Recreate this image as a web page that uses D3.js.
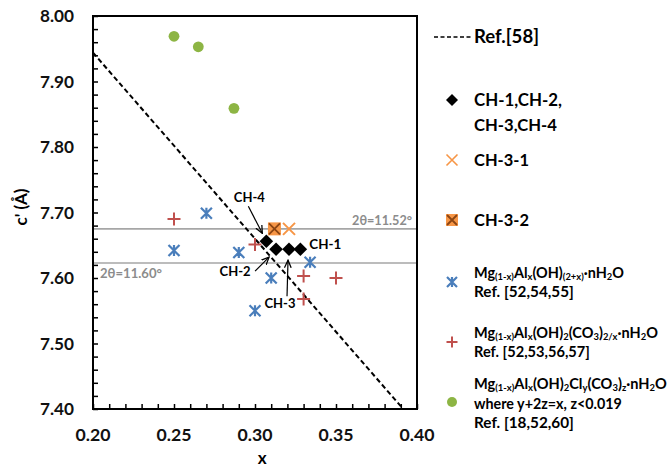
<!DOCTYPE html>
<html><head><meta charset="utf-8">
<script src="https://cdn.jsdelivr.net/npm/d3@7"></script>
<style>
html,body{margin:0;padding:0;background:#fff;}
text{font-family:Lato,"Open Sans",sans-serif;font-weight:bold;}
</style></head>
<body><svg id="chart" width="671" height="468"></svg>
<script>
// ---- data ----
const xTicks = [0.20, 0.25, 0.30, 0.35, 0.40];
const yTicks = [7.40, 7.50, 7.60, 7.70, 7.80, 7.90, 8.00];
const refLineX = [0.20, 0.3915];
const refLineY = [7.944, 7.40];
const chX = [0.307, 0.313, 0.321, 0.328];
const chY = [7.656, 7.644, 7.644, 7.644];
const chLabels = ["CH-4", "CH-2", "CH-3", "CH-1"];
const ch31X = [0.321], ch31Y = [7.675];
const ch32X = [0.312], ch32Y = [7.675];
const ohX = [0.270, 0.250, 0.290, 0.334, 0.310, 0.300];
const ohY = [7.699, 7.642, 7.639, 7.624, 7.600, 7.550];
const co3X = [0.250, 0.300, 0.330, 0.350, 0.330];
const co3Y = [7.690, 7.651, 7.603, 7.600, 7.568];
const clX = [0.250, 0.265, 0.287];
const clY = [7.969, 7.953, 7.859];
const thetaLines = [7.675, 7.623];
const thetaLabels = ["2θ=11.52°", "2θ=11.60°"];

const svg = d3.select("#chart");
const L = 93, R = 417, T = 16, B = 409;
const x = d3.scaleLinear().domain([0.20, 0.40]).range([L, R]);
const y = d3.scaleLinear().domain([7.40, 8.00]).range([B, T]);

const colBlue = "#4A7EBB", colRed = "#C0504D", colGreen = "#8DB544", colOrange = "#F79646", colGrey = "#A6A6A6";

// fit a plain text element to a target width by scaling its font-size
function fit(t, w) {
  const n = t.node(); const fs = +t.attr("font-size");
  const cw = n.getComputedTextLength();
  if (cw > 0) t.attr("font-size", (fs * w / cw).toFixed(2));
  return t;
}

// theta lines
const gL = svg.append("g");
thetaLines.forEach(v => {
  gL.append("line").attr("x1", L).attr("x2", R).attr("y1", y(v)).attr("y2", y(v))
    .attr("stroke", colGrey).attr("stroke-width", 1.6);
});
fit(svg.append("text").attr("x", R - 5).attr("y", y(thetaLines[0]) - 4).attr("text-anchor", "end")
  .attr("font-size", 12).attr("fill", "#8c8c8c").text(thetaLabels[0]), 60);
fit(svg.append("text").attr("x", L + 7).attr("y", y(thetaLines[1]) + 15).attr("text-anchor", "start")
  .attr("font-size", 12).attr("fill", "#8c8c8c").text(thetaLabels[1]), 62);

// ref dashed line
svg.append("line").attr("x1", x(refLineX[0])).attr("y1", y(refLineY[0]))
  .attr("x2", x(refLineX[1])).attr("y2", y(refLineY[1]))
  .attr("stroke", "#000").attr("stroke-width", 2).attr("stroke-dasharray", "5,3");

// axes
const yAxis = d3.axisLeft(y).tickValues(d3.range(7.40, 8.001, 0.02)).tickSize(-5).tickFormat("");
const xAxis = d3.axisBottom(x).tickValues(d3.range(0.20, 0.4001, 0.01)).tickSize(-5).tickFormat("");
const gy = svg.append("g").attr("transform", `translate(${L},0)`).call(yAxis);
const gx = svg.append("g").attr("transform", `translate(0,${B})`).call(xAxis);
[gy, gx].forEach(g => { g.select(".domain").remove(); g.selectAll("line").attr("stroke", "#000").attr("stroke-width", 1.5); });
svg.append("rect").attr("x", L).attr("y", T).attr("width", R - L).attr("height", B - T)
  .attr("fill", "none").attr("stroke", "#000").attr("stroke-width", 2);

yTicks.forEach(v => fit(svg.append("text").attr("x", 74).attr("y", y(v) + 6).attr("text-anchor", "end")
  .attr("font-size", 16).attr("fill", "#111").text(v.toFixed(2)), 34));
xTicks.forEach(v => fit(svg.append("text").attr("x", x(v)).attr("y", 441).attr("text-anchor", "middle")
  .attr("font-size", 16).attr("fill", "#111").text(v.toFixed(2)), 35));
svg.append("text").attr("x", x(0.3045)).attr("y", 464).attr("text-anchor", "middle").attr("font-size", 17).text("x");
svg.append("text").attr("transform", "translate(27,207) rotate(-90)").attr("text-anchor", "middle")
  .attr("font-size", 17).text("c' (Å)");

// marker drawers
function diamond(g, cx, cy, s) {
  g.append("path").attr("d", `M${cx},${cy - s}L${cx + s},${cy}L${cx},${cy + s}L${cx - s},${cy}Z`).attr("fill", "#000");
}
function xmark(g, cx, cy, s, col, w) {
  g.append("path").attr("d", `M${cx - s},${cy - s}L${cx + s},${cy + s}M${cx - s},${cy + s}L${cx + s},${cy - s}`)
    .attr("stroke", col).attr("stroke-width", w).attr("fill", "none");
}
function sqx(g, cx, cy, s) {
  g.append("rect").attr("x", cx - s).attr("y", cy - s).attr("width", 2 * s).attr("height", 2 * s).attr("fill", colOrange);
  xmark(g, cx, cy, s - 1, "#8B4513", 1.8);
}
function star(g, cx, cy, s, col) {
  g.append("path").attr("d", `M${cx - s},${cy - s}L${cx + s},${cy + s}M${cx - s},${cy + s}L${cx + s},${cy - s}M${cx},${cy - s}L${cx},${cy + s}`)
    .attr("stroke", col).attr("stroke-width", 2.2).attr("fill", "none");
}
function plus(g, cx, cy, s, col) {
  g.append("path").attr("d", `M${cx - s},${cy}L${cx + s},${cy}M${cx},${cy - s}L${cx},${cy + s}`)
    .attr("stroke", col).attr("stroke-width", 2).attr("fill", "none");
}
function circ(g, cx, cy, r, col) {
  g.append("circle").attr("cx", cx).attr("cy", cy).attr("r", r).attr("fill", col);
}

const gm = svg.append("g");
clX.forEach((v, i) => circ(gm, x(v), y(clY[i]), 5.4, colGreen));
ohX.forEach((v, i) => star(gm, x(v), y(ohY[i]), 5.5, colBlue));
co3X.forEach((v, i) => plus(gm, x(v), y(co3Y[i]), 6.5, colRed));
ch32X.forEach((v, i) => sqx(gm, x(v), y(ch32Y[i]), 6.5));
ch31X.forEach((v, i) => xmark(gm, x(v), y(ch31Y[i]), 6, colOrange, 2));
chX.forEach((v, i) => diamond(gm, x(v), y(chY[i]), 6.8));

// annotations
svg.append("defs").append("marker").attr("id", "arr").attr("viewBox", "0 0 10 10").attr("refX", 9).attr("refY", 5)
  .attr("markerWidth", 7).attr("markerHeight", 7).attr("orient", "auto")
  .append("path").attr("d", "M0,1L9,5L0,9").attr("fill", "none").attr("stroke", "#000").attr("stroke-width", 1.5);
function arrow(x1, y1, x2, y2) {
  svg.append("line").attr("x1", x1).attr("y1", y1).attr("x2", x2).attr("y2", y2)
    .attr("stroke", "#000").attr("stroke-width", 1.2).attr("marker-end", "url(#arr)");
}
// CH-4
fit(svg.append("text").attr("x", x(chX[0]) - 17).attr("y", y(chY[0]) - 39).attr("text-anchor", "middle").attr("font-size", 14).text(chLabels[0]), 31);
arrow(x(chX[0]) - 18, y(chY[0]) - 35, x(chX[0]) - 4, y(chY[0]) - 8);
// CH-2
fit(svg.append("text").attr("x", x(chX[1]) - 41).attr("y", y(chY[1]) + 27).attr("text-anchor", "middle").attr("font-size", 14).text(chLabels[1]), 31);
arrow(x(chX[1]) - 21, y(chY[1]) + 22, x(chX[1]) - 7, y(chY[1]) + 8);
// CH-3
fit(svg.append("text").attr("x", x(chX[2]) - 9).attr("y", y(chY[2]) + 59).attr("text-anchor", "middle").attr("font-size", 14).text(chLabels[2]), 31);
arrow(x(chX[2]) - 2, y(chY[2]) + 47, x(chX[2]) - 1, y(chY[2]) + 11);
// CH-1
fit(svg.append("text").attr("x", x(chX[3]) + 9).attr("y", y(chY[3]) + 0).attr("text-anchor", "start").attr("font-size", 14).text(chLabels[3]), 32);

// legend
const lg = svg.append("g");
const LX = 452, TX = 474;
lg.append("line").attr("x1", 434).attr("x2", 471).attr("y1", 37).attr("y2", 37)
  .attr("stroke", "#000").attr("stroke-width", 1.6).attr("stroke-dasharray", "4,2.5");
fit(lg.append("text").attr("x", TX).attr("y", 43).attr("font-size", 15).text("Ref.[58]"), 65);
diamond(lg, LX, 100, 6);
fit(lg.append("text").attr("x", TX).attr("y", 106).attr("font-size", 15).text("CH-1,CH-2,"), 88);
fit(lg.append("text").attr("x", TX).attr("y", 131).attr("font-size", 15).text("CH-3,CH-4"), 83);
xmark(lg, LX, 160, 5.5, colOrange, 1.6);
fit(lg.append("text").attr("x", TX).attr("y", 166).attr("font-size", 15).text("CH-3-1"), 55);
sqx(lg, LX, 220, 6);
fit(lg.append("text").attr("x", TX).attr("y", 226).attr("font-size", 15).text("CH-3-2"), 55);

function rich(xp, yp, segs, fs, w) {
  const build = f => {
    const t = lg.append("text").attr("x", xp).attr("y", yp).attr("font-size", f);
    segs.forEach(s => {
      if (typeof s === "string") t.append("tspan").text(s);
      else t.append("tspan").attr("font-size", f * 0.65).attr("baseline-shift", "-18%").text(s.sub);
    });
    return t;
  };
  let t = build(fs);
  const cw = t.node().getComputedTextLength();
  if (w && cw > 0) { t.remove(); t = build(fs * w / cw); }
  return t;
}
star(lg, LX, 282, 5, colBlue);
rich(TX, 278, ["Mg", {sub: "(1-x)"}, "Al", {sub: "x"}, "(OH)", {sub: "(2+x)"}, "·nH", {sub: "2"}, "O"], 14, 150);
rich(TX, 297, ["Ref. [52,54,55]"], 14, 100);
plus(lg, LX, 342, 5.5, colRed);
rich(TX, 338, ["Mg", {sub: "(1-x)"}, "Al", {sub: "x"}, "(OH)", {sub: "2"}, "(CO", {sub: "3"}, ")", {sub: "2/x"}, "·nH", {sub: "2"}, "O"], 14, 184);
rich(TX, 357, ["Ref. [52,53,56,57]"], 14, 116);
circ(lg, LX, 402, 5, colGreen);
rich(TX, 389, ["Mg", {sub: "(1-x)"}, "Al", {sub: "x"}, "(OH)", {sub: "2"}, "Cl", {sub: "y"}, "(CO", {sub: "3"}, ")", {sub: "z"}, "·nH", {sub: "2"}, "O"], 14, 193);
rich(TX, 409, ["where y+2z=x, z<0.019"], 14, 148);
rich(TX, 428, ["Ref. [18,52,60]"], 14, 100);
</script></body></html>
